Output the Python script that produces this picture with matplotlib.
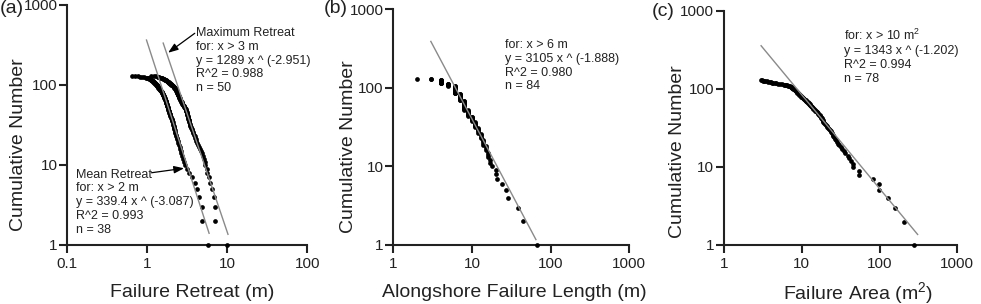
import numpy as np
import matplotlib
matplotlib.use('Agg')
import matplotlib.pyplot as plt
from matplotlib.ticker import FixedLocator, FixedFormatter, NullLocator

plt.rcParams['font.family'] = ['Liberation Sans', 'DejaVu Sans']
plt.rcParams['mathtext.fontset'] = 'custom'
plt.rcParams['mathtext.rm'] = 'Liberation Sans'
plt.rcParams['mathtext.it'] = 'Liberation Sans:italic'
plt.rcParams['mathtext.bf'] = 'Liberation Sans:bold'

# ---------------- data (values sorted largest first; cumulative number = rank) ----
mean_retreat = [
    5.75, 4.78, 4.76, 4.42, 4.15, 3.9, 3.65, 3.3, 3.12, 2.98,
    2.88, 2.81, 2.74, 2.67, 2.62, 2.58, 2.54, 2.49, 2.44, 2.40,
    2.37, 2.34, 2.31, 2.28, 2.25, 2.22, 2.19, 2.17, 2.16, 2.14,
    2.13, 2.11, 2.09, 2.08, 2.06, 2.05, 2.03, 2.01, 1.98, 1.95,
    1.93, 1.92, 1.91, 1.90, 1.88, 1.87, 1.86, 1.85, 1.84, 1.82,
    1.81, 1.80, 1.79, 1.78, 1.77, 1.76, 1.75, 1.74, 1.73, 1.72,
    1.72, 1.71, 1.70, 1.69, 1.68, 1.67, 1.66, 1.65, 1.64, 1.63,
    1.62, 1.61, 1.60, 1.59, 1.58, 1.57, 1.56, 1.55, 1.54, 1.53,
    1.52, 1.51, 1.50, 1.49, 1.47, 1.46, 1.45, 1.44, 1.43, 1.42,
    1.40, 1.39, 1.38, 1.37, 1.36, 1.35, 1.34, 1.33, 1.32, 1.31,
    1.30, 1.29, 1.27, 1.26, 1.25, 1.24, 1.23, 1.22, 1.21, 1.19,
    1.18, 1.17, 1.15, 1.14, 1.12, 1.11, 1.10, 1.08, 1.07, 1.05,
    1.04, 1.02, 1.00, 0.96, 0.92, 0.87, 0.82, 0.76, 0.70, 0.64]

max_retreat = [
    9.9, 7.1, 7.05, 6.8, 6.45, 6.05, 5.85, 5.65, 5.5, 5.3,
    5.2, 5.05, 4.95, 4.85, 4.7, 4.55, 4.4, 4.3, 4.2, 4.12,
    4.05, 3.98, 3.9, 3.83, 3.76, 3.7, 3.64, 3.58, 3.53, 3.49,
    3.45, 3.42, 3.39, 3.36, 3.33, 3.3, 3.28, 3.26, 3.24, 3.22,
    3.2, 3.18, 3.16, 3.14, 3.12, 3.1, 3.08, 3.06, 3.04, 3.02,
    2.98, 2.93, 2.9, 2.87, 2.84, 2.81, 2.78, 2.75, 2.73, 2.70,
    2.68, 2.65, 2.63, 2.61, 2.59, 2.57, 2.55, 2.53, 2.52, 2.50,
    2.49, 2.48, 2.46, 2.45, 2.44, 2.42, 2.41, 2.40, 2.38, 2.37,
    2.36, 2.34, 2.33, 2.32, 2.31, 2.30, 2.29, 2.28, 2.26, 2.24,
    2.22, 2.20, 2.18, 2.16, 2.13, 2.11, 2.09, 2.07, 2.05, 2.02,
    2.00, 1.98, 1.96, 1.94, 1.92, 1.89, 1.87, 1.85, 1.82, 1.80,
    1.78, 1.76, 1.74, 1.71, 1.69, 1.67, 1.65, 1.63, 1.60, 1.57,
    1.54, 1.51, 1.48, 1.45, 1.42, 1.38, 1.35, 1.28, 1.20, 1.10]

length_values = [68, 44, 38, 29, 27, 24, 21, 20, 18, 17, 16, 15, 14, 13, 12,
                 11, 10, 9, 8, 7, 6, 5, 4, 3, 2]
length_counts = [1, 1, 1, 1, 1, 1, 1, 2, 1, 2, 3, 3, 4, 4, 5,
                 6, 6, 9, 17, 15, 22, 7, 14, 2, 1]

failure_area = [
    277, 208, 158, 128, 98, 97, 82, 55, 54, 46,
    45.0, 43.0, 41.0, 39.7, 36.5, 34.5, 33.0, 31.8, 30.5, 29.2,
    28.0, 27.2, 26.5, 25.8, 25.3, 25.0, 24.5, 24.0, 23.5, 23.0,
    22.4, 21.8, 21.3, 20.8, 20.3, 19.8, 19.3, 18.9, 18.8, 18.6,
    18.4, 18.2, 17.9, 17.6, 17.3, 17.0, 16.7, 16.4, 16.1, 15.8,
    15.5, 15.2, 14.9, 14.6, 14.3, 14.0, 13.8, 13.6, 13.4, 13.2,
    13.0, 12.8, 12.7, 12.6, 12.4, 12.3, 12.1, 11.9, 11.7, 11.5,
    11.3, 11.2, 11.0, 10.8, 10.7, 10.5, 10.4, 10.2, 10.0, 9.9,
    9.8, 9.7, 9.55, 9.45, 9.3, 9.2, 9.1, 9.0, 8.9, 8.8,
    8.7, 8.6, 8.55, 8.5, 8.4, 8.3, 8.2, 8.1, 8.0, 7.9,
    7.8, 7.7, 7.6, 7.5, 7.4, 7.3, 7.2, 7.05, 6.9, 6.7,
    6.5, 6.3, 6.1, 5.9, 5.6, 5.2, 4.9, 4.7, 4.5, 4.3,
    4.15, 4.0, 3.85, 3.7, 3.55, 3.4, 3.3, 3.2, 3.1, 3.0]

# power-law fits shown in the chart: y = a * x^b, drawn over these x ranges
fit_mean = (339.4, -3.087)
fit_max = (1289.0, -2.951)
fit_length = (3105.0, -1.888)
fit_area = (1343.0, -1.202)
fit_mean_x = [0.977, 5.92]
fit_max_x = [1.58, 10.2]
fit_length_x = [3.0, 65.0]
fit_area_x = [3.0, 309.0]

y_ticks = [1, 10, 100, 1000]
y_ticklabels = ['1', '10', '100', '1000']
xa_ticks = [0.1, 1, 10, 100]
xa_ticklabels = ['0.1', '1', '10', '100']
xb_ticks = [1, 10, 100, 1000]
xb_ticklabels = ['1', '10', '100', '1000']

# ---------------- figure ----------------
W, H = 981, 304
fig = plt.figure(figsize=(W / 100, H / 100), dpi=100)
axA = fig.add_axes([67.3 / W, 59 / H, 240 / W, 240 / H])
axB = fig.add_axes([393.3 / W, 59 / H, 236 / W, 235.7 / H])
axC = fig.add_axes([724 / W, 59 / H, 233.3 / W, 234 / H])

dark = '#222222'
grey = '#8a8a8a'


def cum_number(vals):
    return np.arange(1, len(vals) + 1)


def style(ax, xticks, xlabels, xlabel, xlab_xy, ylab_xy):
    ax.set_xscale('log')
    ax.set_yscale('log')
    ax.set_xlim(xticks[0], xticks[-1])
    ax.set_ylim(y_ticks[0], y_ticks[-1])
    ax.xaxis.set_major_locator(FixedLocator(xticks))
    ax.xaxis.set_major_formatter(FixedFormatter(xlabels))
    ax.xaxis.set_minor_locator(NullLocator())
    ax.yaxis.set_major_locator(FixedLocator(y_ticks))
    ax.yaxis.set_major_formatter(FixedFormatter(y_ticklabels))
    ax.yaxis.set_minor_locator(NullLocator())
    for s in ['top', 'right']:
        ax.spines[s].set_visible(False)
    for s in ['left', 'bottom']:
        ax.spines[s].set_linewidth(1.5)
        ax.spines[s].set_color(dark)
    ax.tick_params(length=6, width=1.5, color=dark, labelsize=11, labelcolor=dark)
    ax.tick_params(axis='y', pad=1)
    ax.tick_params(axis='x', pad=3)
    ax.patch.set_visible(False)
    ax.set_xlabel(xlabel, fontsize=14, color=dark, va='baseline')
    ax.xaxis.set_label_coords(*xlab_xy)
    ax.set_ylabel('Cumulative Number', fontsize=14, color=dark)
    ax.yaxis.set_label_coords(*ylab_xy)


def fit_line(ax, fit, xr):
    x = np.array(xr)
    ax.plot(x, fit[0] * x ** fit[1], color=grey, lw=1.0, zorder=4)


def dots(ax, x, y):
    ax.plot(x, y, 'o', color='black', ms=3.4, mew=0, clip_on=False, zorder=3)


# baseline of x labels at ~297 px from top
def xlab_y(ax_h):
    return -(297 - 245) / ax_h


# (a)
dots(axA, mean_retreat, cum_number(mean_retreat))
dots(axA, max_retreat, cum_number(max_retreat))
fit_line(axA, fit_mean, fit_mean_x)
fit_line(axA, fit_max, fit_max_x)
style(axA, xa_ticks, xa_ticklabels, 'Failure Retreat (m)', (0.522, xlab_y(240)), (-0.167, 0.417))
tkw = dict(fontsize=9, color=dark, va='top', ha='left', linespacing=1.2)
axA.text(4.12, 531, 'Maximum Retreat\nfor: x > 3 m\ny = 1289 x ^ (-2.951)\nR^2 = 0.988\nn = 50', **tkw)
axA.text(0.128, 9.0, 'Mean Retreat\nfor: x > 2 m\ny = 339.4 x ^ (-3.087)\nR^2 = 0.993\nn = 38', **tkw)
akw = dict(arrowstyle='-|>,head_length=0.6,head_width=0.22', color='black', lw=0.9,
           shrinkA=0, shrinkB=0)
axA.annotate('', xy=(1.82, 253), xytext=(3.92, 443), arrowprops=akw)
axA.annotate('', xy=(2.88, 9.1), xytext=(1.128, 8.0), arrowprops=akw)

# (b)
lengths = np.repeat(length_values, length_counts)
dots(axB, lengths, cum_number(lengths))
fit_line(axB, fit_length, fit_length_x)
style(axB, xb_ticks, xb_ticklabels, 'Alongshore Failure Length (m)', (0.512, xlab_y(235.7)), (-0.155, 0.417))
axB.text(26.3, 418, 'for: x > 6 m\ny = 3105 x ^ (-1.888)\nR^2 = 0.980\nn = 84', **tkw)

# (c)
dots(axC, failure_area, cum_number(failure_area))
fit_line(axC, fit_area, fit_area_x)
style(axC, xb_ticks, xb_ticklabels, 'Failure Area (m$^2$)', (0.576, -(299 - 245) / 234), (-0.164, 0.399))
axC.text(35.2, 606, 'for: x > 10 m$^2$\ny = 1343 x ^ (-1.202)\nR^2 = 0.994\nn = 78', **tkw)

# panel letters
fig.text(0 / W, 1.0, '(a)', fontsize=14, color=dark, ha='left', va='top')
fig.text(323.5 / W, 1.0, '(b)', fontsize=14, color=dark, ha='left', va='top')
fig.text(651.7 / W, 1 - 3.3 / H, '(c)', fontsize=14, color=dark, ha='left', va='top')

fig.savefig('out.png', dpi=100)
